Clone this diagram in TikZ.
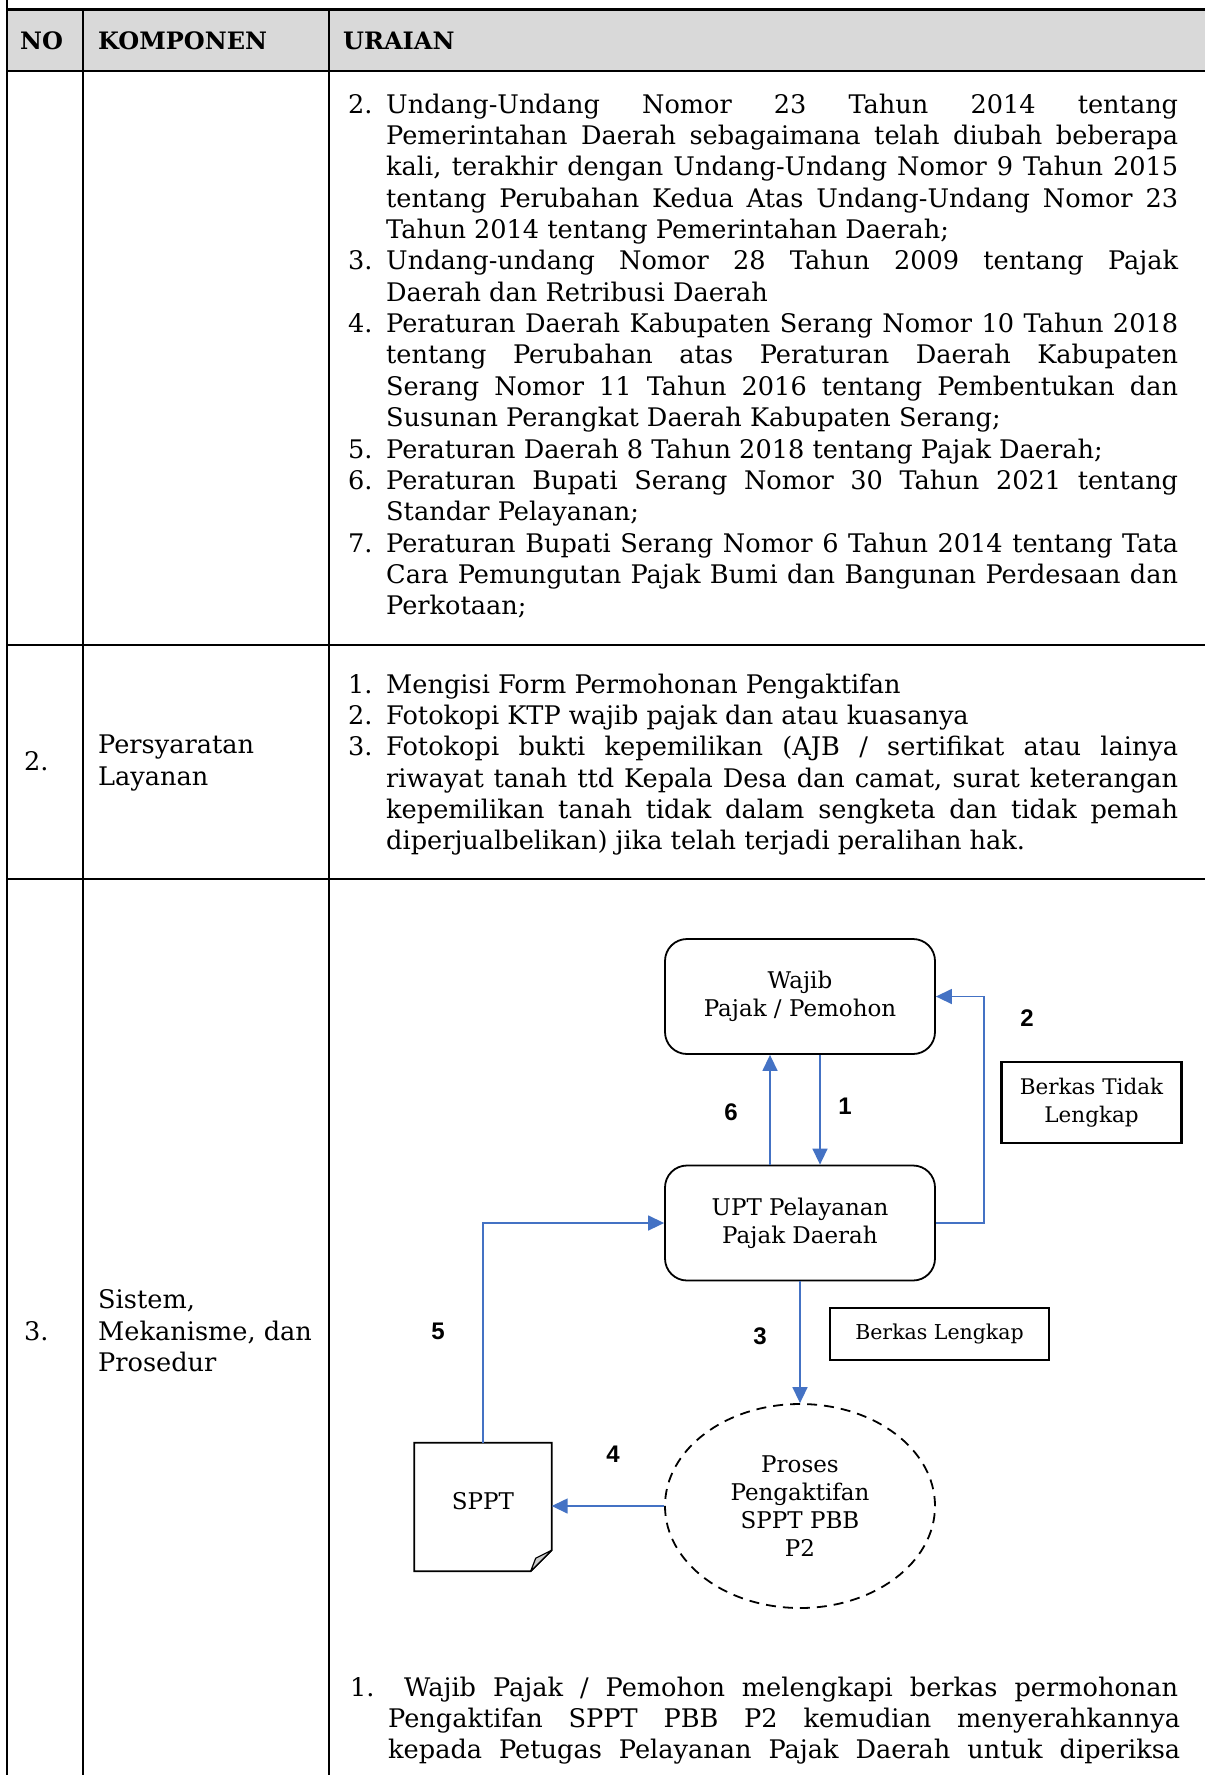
\documentclass[tikz,border=0pt]{standalone}
\usepackage{fontspec}
\setmainfont{DejaVu Serif}
\newfontfamily\numfam{Liberation Sans}
\usetikzlibrary{shapes.geometric,arrows.meta}

\definecolor{flowblue}{RGB}{68,114,196}
\definecolor{headgrey}{RGB}{217,217,217}
\definecolor{foldgrey}{RGB}{205,205,205}

% text sizes (1pt = one pixel of the page)
\newcommand\bodyfont{\fontsize{25.6}{31.35}\selectfont}
\newcommand\headfont{\fontsize{24}{30}\selectfont\bfseries}
\newcommand\diafont{\fontsize{23}{28}\selectfont}
\newcommand\stepnum{\numfam\bfseries\fontsize{24}{26}\selectfont}

% one line of a justified list item
\newlength\txtw \setlength\txtw{792pt}
\newlength\labw \setlength\labw{38pt}
\newcommand\jline[1]{\makebox[\txtw][s]{\strut #1}}
\newcommand\pline[1]{\makebox[\txtw][l]{\strut #1}}
\newcommand\itemno[1]{\makebox[\labw][l]{\strut #1}}
\newcommand\itemgap{\hspace*{\labw}}

\begin{document}
\begin{tikzpicture}[x=1pt,y=-1pt,
  grid/.style={line width=2.4pt},
  txt/.style={inner sep=0pt,font=\bodyfont,align=left},
  hd/.style={inner sep=0pt,font=\headfont,anchor=west},
  roundbox/.style={draw,line width=1.8pt,rounded corners=22pt,minimum width=270pt,
    minimum height=115pt,align=center,font=\diafont,inner sep=0pt},
  notebox/.style={draw,line width=2.8pt,align=center,inner sep=0pt},
  flow/.style={draw=flowblue,line width=1.5pt,-{Triangle[length=16pt,width=15pt]}},
  steplabel/.style={font=\stepnum,inner sep=0pt},
]
\useasboundingbox (0,0) rectangle (1205,1775);
\fill[white] (0,0) rectangle (1205,1775);

% table frame
\fill[headgrey] (7,9.3) rectangle (1205,70.7);
\draw[grid] (7,0) -- (7,1775);
\draw[grid] (83,9.3) -- (83,1775);
\draw[grid] (329,9.3) -- (329,1775);
\foreach \y in {9.3,70.7,645,879} \draw[grid] (7,\y) -- (1205,\y);

% header
\node[hd] (hno) at (20,41) {NO};
\node[hd] (hkomp) at (98,41) {KOMPONEN};
\node[hd] (hur) at (343,41) {URAIAN};

% row 1: legal basis (continued)
\node[txt,anchor=north west] (dasar) at (348,91) {%
\itemno{2.}\jline{Undang-Undang Nomor 23 Tahun 2014 tentang}\\
\itemgap\jline{Pemerintahan Daerah sebagaimana telah diubah beberapa}\\
\itemgap\jline{kali, terakhir dengan Undang-Undang Nomor 9 Tahun 2015}\\
\itemgap\jline{tentang Perubahan Kedua Atas Undang-Undang Nomor 23}\\
\itemgap\pline{Tahun 2014 tentang Pemerintahan Daerah;}\\
\itemno{3.}\jline{Undang-undang Nomor 28 Tahun 2009 tentang Pajak}\\
\itemgap\pline{Daerah dan Retribusi Daerah}\\
\itemno{4.}\jline{Peraturan Daerah Kabupaten Serang Nomor 10 Tahun 2018}\\
\itemgap\jline{tentang Perubahan atas Peraturan Daerah Kabupaten}\\
\itemgap\jline{Serang Nomor 11 Tahun 2016 tentang Pembentukan dan}\\
\itemgap\pline{Susunan Perangkat Daerah Kabupaten Serang;}\\
\itemno{5.}\pline{Peraturan Daerah 8 Tahun 2018 tentang Pajak Daerah;}\\
\itemno{6.}\jline{Peraturan Bupati Serang Nomor 30 Tahun 2021 tentang}\\
\itemgap\pline{Standar Pelayanan;}\\
\itemno{7.}\jline{Peraturan Bupati Serang Nomor 6 Tahun 2014 tentang Tata}\\
\itemgap\jline{Cara Pemungutan Pajak Bumi dan Bangunan Perdesaan dan}\\
\itemgap\pline{Perkotaan;}};

% row 2
\node[txt,anchor=west] (no2) at (24,761) {2.};
\node[txt,anchor=west] (komp2) at (98,763) {Persyaratan\\Layanan};
\node[txt,anchor=north west] (syarat) at (348,671) {%
\itemno{1.}\pline{Mengisi Form Permohonan Pengaktifan}\\
\itemno{2.}\pline{Fotokopi KTP wajib pajak dan atau kuasanya}\\
\itemno{3.}\jline{Fotokopi bukti kepemilikan (AJB / sertifikat atau lainya}\\
\itemgap\jline{riwayat tanah ttd Kepala Desa dan camat, surat keterangan}\\
\itemgap\jline{kepemilikan tanah tidak dalam sengketa dan tidak pemah}\\
\itemgap\pline{diperjualbelikan) jika telah terjadi peralihan hak.}};

% row 3
\node[txt,anchor=west] (no3) at (24,1331) {3.};
\node[txt,anchor=west] (komp3) at (98,1331) {Sistem,\\Mekanisme, dan\\Prosedur};

% flow diagram
\node[roundbox] (wajib) at (800,996.5) {Wajib\\Pajak / Pemohon};
\node[roundbox] (upt) at (800,1223) {UPT Pelayanan\\Pajak Daerah};
\node[notebox,font=\fontsize{21.5}{28}\selectfont,minimum width=180pt,minimum height=81pt]
      (tidak) at (1091.5,1102.5) {Berkas Tidak\\Lengkap};
\node[notebox,font=\fontsize{20.5}{26}\selectfont,minimum width=219pt,minimum height=52pt]
      (lengkap) at (939.5,1334) {Berkas Lengkap};
\node[draw,dashed,dash pattern=on 10pt off 7pt,line width=1.8pt,ellipse,
      minimum width=270pt,minimum height=204pt,align=center,font=\diafont,inner sep=0pt]
      (proses) at (800,1506) {Proses\\Pengaktifan\\SPPT PBB\\P2};
\node[minimum width=137pt,minimum height=128pt,inner sep=0pt,font=\diafont]
      (sppt) at (483,1507) {\raisebox{12pt}{SPPT}};

% document outline with folded corner
\draw[line width=1.8pt,line join=miter]
  (sppt.north west) -- (sppt.north east) -- ([yshift=21pt]sppt.south east)
  -- ([xshift=-21pt]sppt.south east) -- (sppt.south west) -- cycle;
\filldraw[fill=foldgrey,line width=1.2pt,line join=round]
  ([yshift=21pt]sppt.south east) -- ([xshift=-21pt]sppt.south east)
  -- ([xshift=-16pt,yshift=13pt]sppt.south east) -- cycle;

% step numbers
\node[steplabel] (s1) at (845,1106) {1};
\node[steplabel] (s2) at (1027,1018) {2};
\node[steplabel] (s3) at (760,1336) {3};
\node[steplabel] (s4) at (613,1454) {4};
\node[steplabel] (s5) at (438,1331) {5};
\node[steplabel] (s6) at (731,1112) {6};

% connectors
\draw[flow] ([xshift=-30pt]upt.north) -- ([xshift=-30pt]wajib.south);
\draw[flow] ([xshift=20pt]wajib.south) -- ([xshift=20pt]upt.north);
\draw[flow] (upt.east) -- ++(48,0) |- (wajib.east);
\draw[flow] (upt.south) -- (proses.north);
\draw[flow] (proses.west) -- (proses.west -| sppt.east);
\draw[flow] (sppt.north) |- (upt.west);

% procedure text below the diagram
\node[txt,anchor=north west] (langkah) at (350,1674) {%
\setlength\labw{54pt}\setlength\txtw{774pt}%
\itemno{1.}\jline{Wajib Pajak / Pemohon melengkapi berkas permohonan}\\
\itemgap\jline{Pengaktifan SPPT PBB P2 kemudian menyerahkannya}\\
\itemgap\jline{kepada Petugas Pelayanan Pajak Daerah untuk diperiksa}};
\end{tikzpicture}
\end{document}
